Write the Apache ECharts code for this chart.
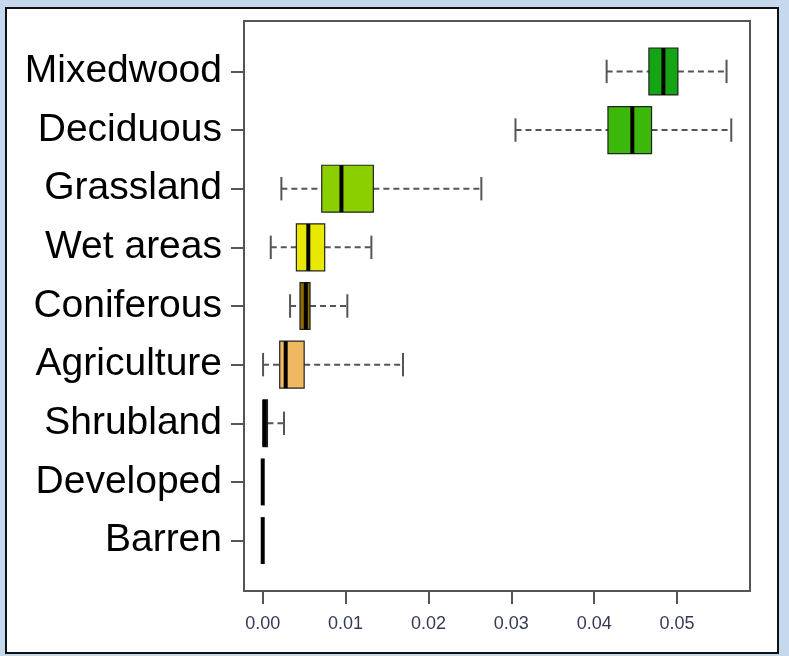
<!DOCTYPE html>
<html>
<head>
<meta charset="utf-8">
<script src="https://cdn.jsdelivr.net/npm/echarts@6/dist/echarts.min.js"></script>
<style>html,body{margin:0;padding:0;background:#c6d8ee;}#chart{width:789px;height:656px;}</style>
</head>
<body>
<div id="chart"></div>
<script>
// Categories listed top to bottom
const categories = ['Mixedwood', 'Deciduous', 'Grassland', 'Wet areas', 'Coniferous', 'Agriculture', 'Shrubland', 'Developed', 'Barren'];
const whiskerLow  = [0.0415,  0.0305,  0.00225, 0.00097, 0.0033,  0.00004, 0,       0, 0];
const q1          = [0.0466,  0.04166, 0.00712, 0.00406, 0.0045,  0.00205, 0.00004, 0, 0];
const median      = [0.04835, 0.0446,  0.0095,  0.0055,  0.0052,  0.00277, 0.0002,  0, 0];
const q3          = [0.0501,  0.04692, 0.01335, 0.00748, 0.00571, 0.005,   0.00057, 0, 0];
const whiskerHigh = [0.05597, 0.05654, 0.02638, 0.01311, 0.01021, 0.01693, 0.00257, 0, 0];
const boxColors = ['#14a514', '#3cb80a', '#8ccf00', '#e8e800', '#8a6c00', '#f0b860', '#222222', '#222222', '#222222'];
const xTicks = [0, 0.01, 0.02, 0.03, 0.04, 0.05];

const n = categories.length;
const yTicks = categories.map((c, i) => n - i);
const data = categories.map((c, i) => [n - i, whiskerLow[i], q1[i], median[i], q3[i], whiskerHigh[i], i]);

function renderItem(params, api) {
  const y = api.value(0);
  const lo = api.value(1), a = api.value(2), m = api.value(3), b = api.value(4), hi = api.value(5);
  const idx = api.value(6);
  const bh = api.size([0, 1])[1] * 0.8;
  const pLo = api.coord([lo, y]), pA = api.coord([a, y]), pM = api.coord([m, y]), pB = api.coord([b, y]), pHi = api.coord([hi, y]);
  const cy = pM[1];
  const children = [];
  const wStyle = { stroke: '#555', lineWidth: 2, lineDash: [6, 4] };
  const cStyle = { stroke: '#555', lineWidth: 2 };
  if (pA[0] - pLo[0] > 1) {
    children.push({ type: 'line', shape: { x1: pLo[0], y1: cy, x2: pA[0], y2: cy }, style: wStyle });
    children.push({ type: 'line', shape: { x1: pLo[0], y1: cy - bh / 4, x2: pLo[0], y2: cy + bh / 4 }, style: cStyle });
  }
  if (pHi[0] - pB[0] > 1) {
    children.push({ type: 'line', shape: { x1: pB[0], y1: cy, x2: pHi[0], y2: cy }, style: wStyle });
    children.push({ type: 'line', shape: { x1: pHi[0], y1: cy - bh / 4, x2: pHi[0], y2: cy + bh / 4 }, style: cStyle });
  }
  if (pB[0] - pA[0] > 0.5) {
    children.push({ type: 'rect', shape: { x: pA[0], y: cy - bh / 2, width: pB[0] - pA[0], height: bh },
      style: { fill: boxColors[idx], stroke: '#222', lineWidth: 1.2 } });
  }
  children.push({ type: 'line', shape: { x1: pM[0], y1: cy - bh / 2, x2: pM[0], y2: cy + bh / 2 },
    style: { stroke: '#000', lineWidth: 4, lineCap: 'butt' } });
  return { type: 'group', children: children };
}

const chart = echarts.init(document.getElementById('chart'), null, { renderer: 'canvas' });
chart.setOption({
  backgroundColor: '#c6d8ee',
  animation: false,
  graphic: [{
    type: 'rect', left: 5, top: 7, z: -100,
    shape: { width: 772, height: 645 },
    style: { fill: '#ffffff', stroke: '#111111', lineWidth: 2 }
  }],
  grid: { left: 244, top: 21, width: 506, height: 570, show: true, borderColor: '#555', borderWidth: 2, backgroundColor: 'transparent' },
  xAxis: {
    type: 'value', min: -0.00226, max: 0.0588,
    splitLine: { show: false },
    axisLine: { show: false, onZero: false },
    axisTick: { show: true, customValues: xTicks, length: 13, lineStyle: { color: '#555', width: 2 } },
    axisLabel: { customValues: xTicks, formatter: v => v.toFixed(2), fontSize: 18, color: '#333a55',
      fontFamily: 'Liberation Sans, Arial, sans-serif', margin: 24 }
  },
  yAxis: {
    type: 'value', min: 0.14, max: 9.86,
    splitLine: { show: false },
    axisLine: { show: false, onZero: false },
    axisTick: { show: true, customValues: yTicks, length: 13, lineStyle: { color: '#555', width: 2 } },
    axisLabel: { customValues: yTicks, formatter: v => categories[n - v], fontSize: 39, color: '#000',
      fontFamily: 'Liberation Sans, Arial, sans-serif', margin: 22 }
  },
  series: [{
    type: 'custom',
    renderItem: renderItem,
    dimensions: ['y', 'low', 'q1', 'median', 'q3', 'high', 'idx'],
    encode: { x: [1, 2, 3, 4, 5], y: 0 },
    data: data,
    clip: false
  }]
});
</script>
</body>
</html>
